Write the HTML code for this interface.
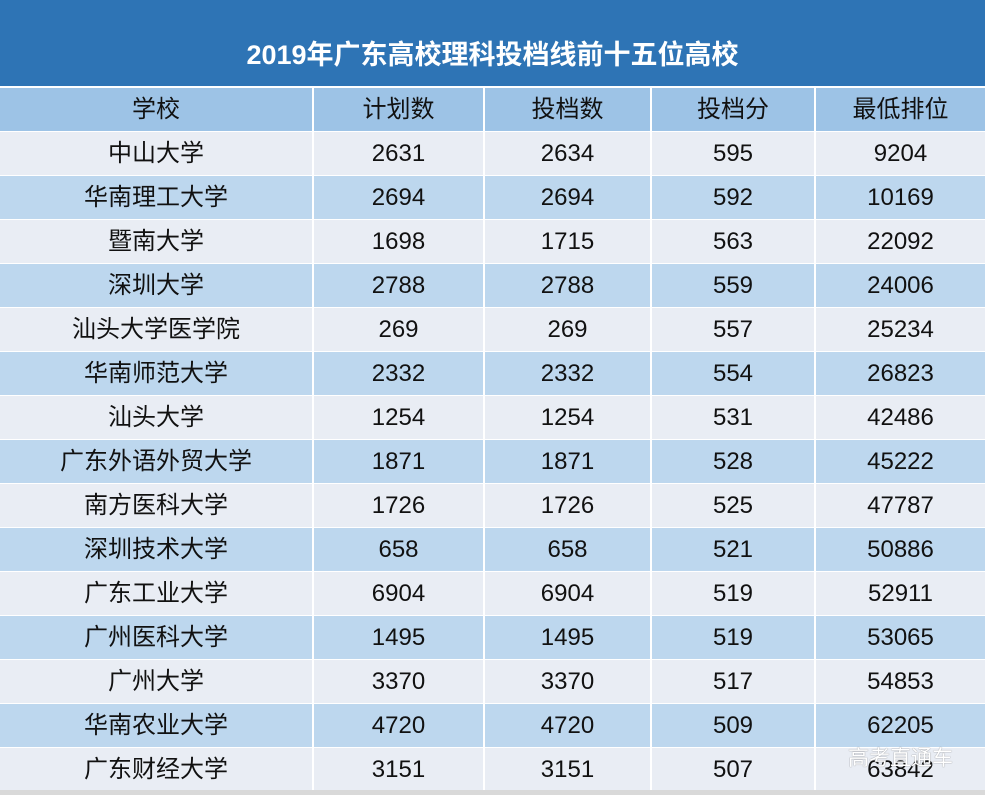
<!DOCTYPE html>
<html><head><meta charset="utf-8"><style>
body{margin:0;width:985px;height:795px;background:#fff;overflow:hidden;font-family:"Liberation Sans","Noto Sans CJK SC",sans-serif;position:relative}
.t{position:absolute;left:0;top:0;width:985px;height:86px;background:#2e74b5;color:#fff;font-weight:bold;font-size:27px;text-align:center;line-height:110px}
table{position:absolute;left:0;top:88px;border-collapse:collapse;width:985px;table-layout:fixed}
td{height:43px;padding:0;text-align:center;font-size:24px;color:#111;border-right:2px solid #fff;border-bottom:1px solid #fff;line-height:43px}
td:last-child{border-right:none}
tr.h td{background:#9dc3e6;height:42px}
tr:nth-child(2n) td{background:#e9edf4}
tr:nth-child(2n+3) td{background:#bdd7ee}
.w{position:absolute;left:848px;top:742px;color:#fff;font-size:21px;text-shadow:0 0 1px #666}
.b{position:absolute;left:0;top:790px;width:985px;height:5px;background:#d9d9d9}
</style></head><body>
<div class="t">2019年广东高校理科投档线前十五位高校</div>
<table>
<colgroup><col style="width:313px"><col style="width:171px"><col style="width:167px"><col style="width:164px"><col style="width:170px"></colgroup>
<tr class="h"><td>学校</td><td>计划数</td><td>投档数</td><td>投档分</td><td>最低排位</td></tr>
<tr><td>中山大学</td><td>2631</td><td>2634</td><td>595</td><td>9204</td></tr>
<tr><td>华南理工大学</td><td>2694</td><td>2694</td><td>592</td><td>10169</td></tr>
<tr><td>暨南大学</td><td>1698</td><td>1715</td><td>563</td><td>22092</td></tr>
<tr><td>深圳大学</td><td>2788</td><td>2788</td><td>559</td><td>24006</td></tr>
<tr><td>汕头大学医学院</td><td>269</td><td>269</td><td>557</td><td>25234</td></tr>
<tr><td>华南师范大学</td><td>2332</td><td>2332</td><td>554</td><td>26823</td></tr>
<tr><td>汕头大学</td><td>1254</td><td>1254</td><td>531</td><td>42486</td></tr>
<tr><td>广东外语外贸大学</td><td>1871</td><td>1871</td><td>528</td><td>45222</td></tr>
<tr><td>南方医科大学</td><td>1726</td><td>1726</td><td>525</td><td>47787</td></tr>
<tr><td>深圳技术大学</td><td>658</td><td>658</td><td>521</td><td>50886</td></tr>
<tr><td>广东工业大学</td><td>6904</td><td>6904</td><td>519</td><td>52911</td></tr>
<tr><td>广州医科大学</td><td>1495</td><td>1495</td><td>519</td><td>53065</td></tr>
<tr><td>广州大学</td><td>3370</td><td>3370</td><td>517</td><td>54853</td></tr>
<tr><td>华南农业大学</td><td>4720</td><td>4720</td><td>509</td><td>62205</td></tr>
<tr><td>广东财经大学</td><td>3151</td><td>3151</td><td>507</td><td>63842</td></tr>
</table>
<div class="w">高考直通车</div>
<div class="b"></div>
</body></html>
